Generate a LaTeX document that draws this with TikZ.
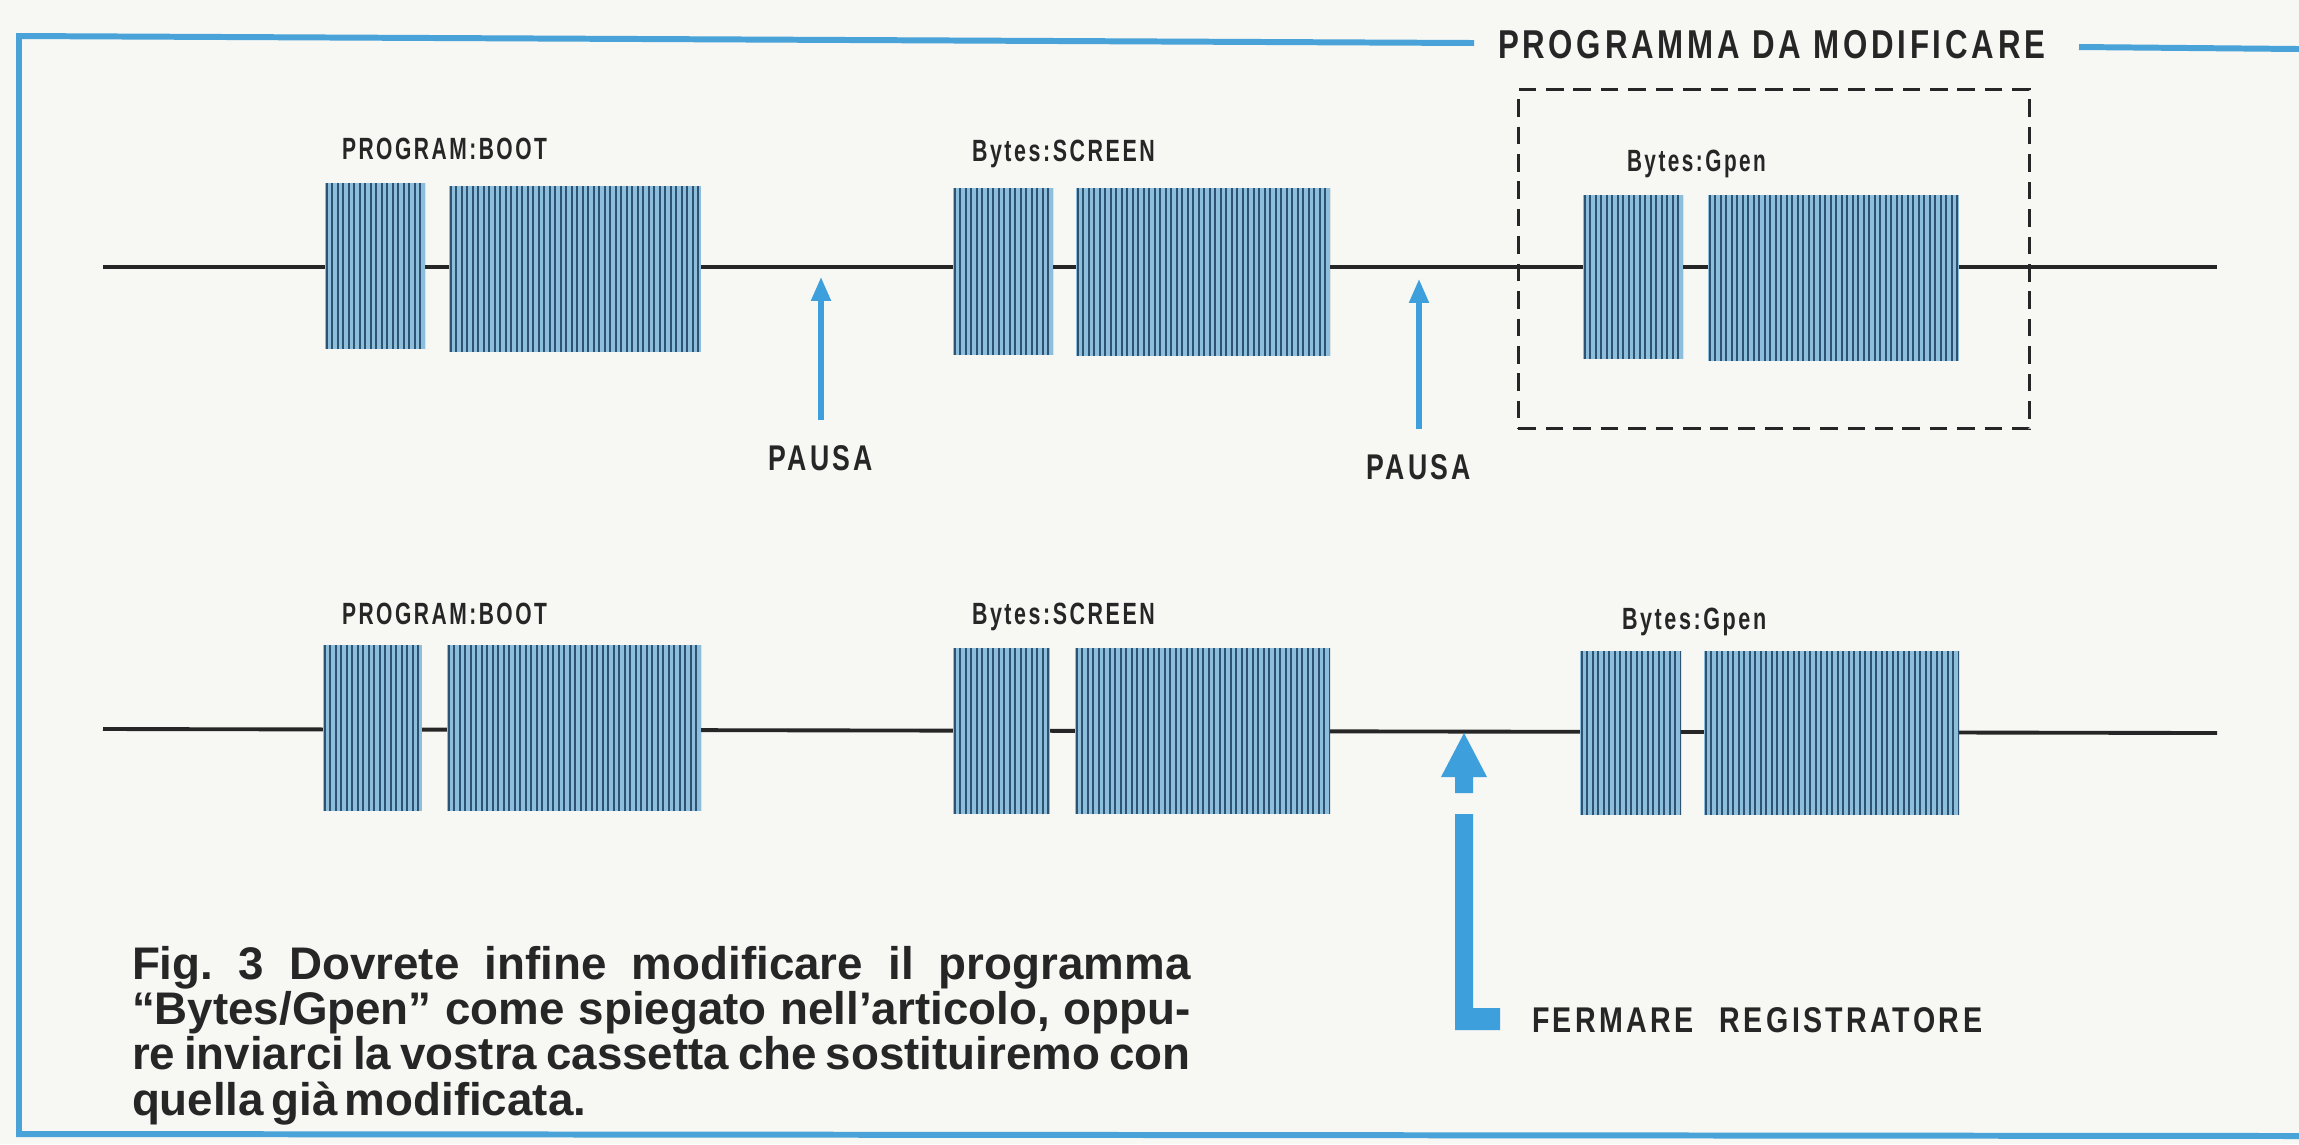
\documentclass[tikz,border=0pt]{standalone}
\usepackage{fontspec}
\setmainfont{Liberation Sans}
\newfontfamily\lblfont[LetterSpace=12]{Liberation Sans}
\usepackage{graphicx}
\usetikzlibrary{arrows.meta}
\definecolor{paper}{HTML}{F7F7F4}
\definecolor{framebl}{HTML}{4AA3D8}
\definecolor{arrowbl}{HTML}{3D9FDB}
\definecolor{tapefill}{HTML}{8DBEDC}
\definecolor{tapestripe}{HTML}{2E5372}
\definecolor{ink}{HTML}{262626}
\newcommand\fitlbl[3]{\resizebox{#1}{#2}{\lblfont\bfseries #3}}
\tikzset{
  frameline/.style={draw=framebl, line width=1.7pt},
  tapeline/.style={draw=ink, line width=1.1pt},
  tapeblock/.style={fill=tapefill, inner sep=0pt, outer sep=0pt, draw=none,
    path picture={
      \foreach \k in {0,...,50}{
        \draw[line width=0.6pt, draw=tapestripe]
          ([xshift=\k*1.565pt+0.5pt]path picture bounding box.south west) --
          ([xshift=\k*1.565pt+0.5pt]path picture bounding box.north west);
      }}},
  lbl/.style={inner sep=0pt, outer sep=0pt, text=ink, anchor=base west},
  dashbox/.style={draw=ink, line width=0.8pt, dash pattern=on 5pt off 2.8pt, inner sep=0pt},
  pausearrow/.style={draw=arrowbl, line width=1.45pt, -{Triangle[width=5.4pt,length=6.8pt]}},
  bigarrow/.style={fill=arrowbl, draw=none},
}
\begin{document}
\begin{tikzpicture}[x=0.01cm,y=-0.01cm]
\useasboundingbox (0,0) rectangle (2299,1144);
\fill[paper] (0,0) rectangle (2299,1144);

% frame
\node[lbl] (pm) at (1498,58) {\fitlbl{155.6pt}{8pt}{PROGRAMMA DA MODIFICARE}};
\coordinate (ftl) at (19,36);
\coordinate (ftm) at (1474,43);
\coordinate (ftr1) at (2079,47);
\coordinate (ftr2) at (2299,49);
\coordinate (fbl) at (19,1134);
\coordinate (fbr) at (2299,1136);
\draw[frameline] (ftm) -- (ftl) -- (fbl) -- (fbr);
\draw[frameline] (ftr1) -- (ftr2);

% ---------- row 1 ----------
\coordinate (r1s) at (103,267);
\coordinate (r1e) at (2217,267);
\draw[tapeline] (r1s) -- (r1e);
\node[tapeblock, minimum width=1.00cm, minimum height=1.66cm, anchor=north west] (a1) at (325,183) {};
\node[tapeblock, minimum width=2.52cm, minimum height=1.66cm, anchor=north west] (a2) at (449,186) {};
\node[tapeblock, minimum width=1.00cm, minimum height=1.67cm, anchor=north west] (b1) at (953,188) {};
\node[tapeblock, minimum width=2.54cm, minimum height=1.68cm, anchor=north west] (b2) at (1076,188) {};
\node[tapeblock, minimum width=1.00cm, minimum height=1.64cm, anchor=north west] (c1) at (1583,195) {};
\node[tapeblock, minimum width=2.51cm, minimum height=1.66cm, anchor=north west] (c2) at (1708,195) {};
\node[dashbox, minimum width=5.11cm, minimum height=3.39cm, anchor=north west] (modbox) at (1517,88) {};

\node[lbl] (l1a) at (342,159) {\fitlbl{58.3pt}{6.1pt}{PROGRAM:BOOT}};
\node[lbl] (l1b) at (972,161) {\fitlbl{52pt}{6.1pt}{Bytes:SCREEN}};
\node[lbl] (l1c) at (1627,171) {\fitlbl{39.5pt}{6.1pt}{Bytes:Gpen}};

\node[lbl, anchor=base] (p1) at (821,470) {\fitlbl{29.6pt}{7.1pt}{PAUSA}};
\node[lbl, anchor=base] (p2) at (1419,479) {\fitlbl{29.6pt}{7.1pt}{PAUSA}};
\coordinate (h1) at (821,277);
\coordinate (h2) at (1419,279);
\draw[pausearrow, shorten <=7pt] (p1.north) -- (h1);
\draw[pausearrow, shorten <=7pt] (p2.north) -- (h2);

% ---------- row 2 ----------
\coordinate (r2s) at (103,729);
\coordinate (r2e) at (2217,733);
\draw[tapeline] (r2s) -- (r2e);
\node[tapeblock, minimum width=0.99cm, minimum height=1.66cm, anchor=north west] (d1) at (323,645) {};
\node[tapeblock, minimum width=2.54cm, minimum height=1.66cm, anchor=north west] (d2) at (447,645) {};
\node[tapeblock, minimum width=0.97cm, minimum height=1.66cm, anchor=north west] (e1) at (953,648) {};
\node[tapeblock, minimum width=2.55cm, minimum height=1.66cm, anchor=north west] (e2) at (1075,648) {};
\node[tapeblock, minimum width=1.01cm, minimum height=1.64cm, anchor=north west] (g1) at (1580,651) {};
\node[tapeblock, minimum width=2.55cm, minimum height=1.64cm, anchor=north west] (g2) at (1704,651) {};

\node[lbl] (l2a) at (342,624) {\fitlbl{58.3pt}{6.1pt}{PROGRAM:BOOT}};
\node[lbl] (l2b) at (972,624) {\fitlbl{52pt}{6.1pt}{Bytes:SCREEN}};
\node[lbl] (l2c) at (1622,629) {\fitlbl{41pt}{6.1pt}{Bytes:Gpen}};

\node[lbl] (fr) at (1532,1032) {\fitlbl{128pt}{7.1pt}{FERMARE\hspace{0.9em}REGISTRATORE}};
\fill[bigarrow] (1464,733) -- (1487,777) -- (1473,777) -- (1473,793) -- (1455,793) -- (1455,777) -- (1441,777) -- cycle;
\fill[bigarrow] (1455,814) -- (1473,814) -- (1473,1008) -- (1500,1008) -- (1500,1030) -- (1455,1030) -- cycle;

% caption
\node[inner sep=0pt, outer sep=0pt, anchor=north west, text=ink,
      font=\fontsize{13}{13}\selectfont\bfseries] (cap) at (132,946) {%
\vbox{\baselineskip=12.9pt \frenchspacing
\spaceskip=0.16em plus 1.5em minus 0.05em\relax
\hbox to 301pt{Fig. 3 Dovrete infine modificare il programma}
\hbox to 301pt{“Bytes/Gpen” come spiegato nell’articolo, oppu-}
\hbox to 301pt{re inviarci la vostra cassetta che sostituiremo con}
\hbox{quella già modificata.}}};
\end{tikzpicture}
\end{document}
